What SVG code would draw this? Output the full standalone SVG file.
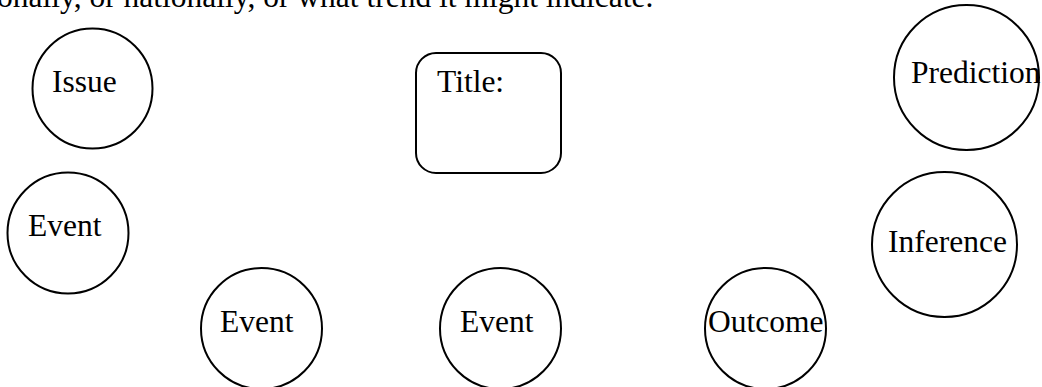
<svg xmlns="http://www.w3.org/2000/svg" width="1042" height="387" viewBox="0 0 1042 387">
  <style>
    .shape { fill: #ffffff; stroke: #000000; stroke-width: 2; }
    .label { font-family: "Liberation Serif", "Times New Roman", serif; font-size: 31.5px; fill: #000000; }
  </style>
  <rect width="1042" height="387" fill="#ffffff"/>

  <!-- running text above the organizer -->
  <text class="label" x="-3" y="7">onally, or nationally, or what trend it might indicate.</text>

  <g id="connectors"></g>

  <g id="issue">
    <circle class="shape" cx="92.5" cy="88.5" r="60"/>
    <text class="label" x="52" y="92">Issue</text>
  </g>

  <g id="title">
    <rect class="shape" x="416" y="53" width="145" height="120" rx="20" ry="20"/>
    <text class="label" x="437" y="92">Title:</text>
  </g>

  <g id="prediction">
    <circle class="shape" cx="966.5" cy="77.5" r="72.5"/>
    <text class="label" x="911" y="83">Prediction</text>
  </g>

  <g id="event-1">
    <circle class="shape" cx="68" cy="233" r="60.5"/>
    <text class="label" x="28" y="236">Event</text>
  </g>

  <g id="inference">
    <circle class="shape" cx="944.5" cy="244.5" r="72.5"/>
    <text class="label" x="888" y="252">Inference</text>
  </g>

  <g id="event-2">
    <circle class="shape" cx="261.5" cy="328.5" r="60.5"/>
    <text class="label" x="220" y="332">Event</text>
  </g>

  <g id="event-3">
    <circle class="shape" cx="500.5" cy="328.5" r="60.5"/>
    <text class="label" x="460" y="332">Event</text>
  </g>

  <g id="outcome">
    <circle class="shape" cx="765.5" cy="328.5" r="60.5"/>
    <text class="label" x="708" y="332">Outcome</text>
  </g>
</svg>
